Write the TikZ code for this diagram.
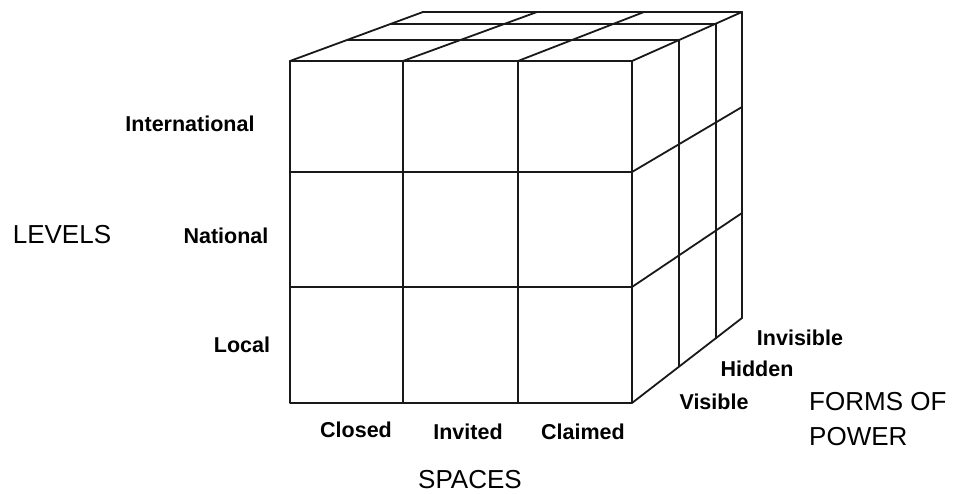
\documentclass[tikz,border=0pt]{standalone}
\usepackage{fontspec}
\setmainfont{Liberation Sans}
\usetikzlibrary{calc}
\begin{document}
\begin{tikzpicture}[x=1pt,y=-1pt,
  edge/.style={line width=1.8pt,draw=black!90,line cap=round,line join=round},
  small/.style={inner sep=0pt,font=\bfseries\fontsize{21.5}{24}\selectfont},
  big/.style={inner sep=0pt,font=\fontsize{26}{35}\selectfont}]
\useasboundingbox (0,0) rectangle (955,494);
% front grid points
\foreach \x [count=\i from 0] in {290,403,518,632}{
  \foreach \y [count=\j from 0] in {61,172,287,403}{
    \coordinate (F\i\j) at (\x,\y);
  }
}
% top back points
\coordinate (T0) at (423,12);
\coordinate (T1) at (537,12);
\coordinate (T2) at (644,12);
\coordinate (T3) at (742,12);
% right back points
\coordinate (R0) at (742,12);
\coordinate (R1) at (742,107);
\coordinate (R2) at (742,213);
\coordinate (R3) at (742,318);
% front face
\draw[edge] (F00) rectangle (F33);
\draw[edge] (F10) -- (F13);
\draw[edge] (F20) -- (F23);
\draw[edge] (F01) -- (F31);
\draw[edge] (F02) -- (F32);
% top face
\foreach \i in {0,1,2,3}{\draw[edge] (F\i0) -- (T\i);}
\foreach \t in {0.43,0.76}{
  \draw[edge] ($(F00)!\t!(T0)$) -- ($(F30)!\t!(T3)$);
}
\draw[edge] (T0) -- (T3);
% right face
\foreach \j in {1,2,3}{\draw[edge] (F3\j) -- (R\j);}
\foreach \t in {0.43,0.76}{
  \draw[edge] ($(F30)!\t!(R0)$) -- ($(F33)!\t!(R3)$);
}
\draw[edge] (R0) -- (R3);
% labels
\node[small] (intl) at (190,124) {International};
\node[small] (natl) at (226,236) {National};
\node[small] (locl) at (242,345) {Local};
\node[big] (levels) at (62,235) {LEVELS};
\node[small] (closed) at (356,430) {Closed};
\node[small] (invited) at (468,432) {Invited};
\node[small] (claimed) at (583,432) {Claimed};
\node[big] (spaces) at (470,480) {SPACES};
\node[small] (visible) at (714,402) {Visible};
\node[small] (hidden) at (757,369) {Hidden};
\node[small] (invisible) at (800,338) {Invisible};
\node[big,align=left,anchor=west] (forms) at (809,419) {FORMS OF\\POWER};
\end{tikzpicture}
\end{document}
